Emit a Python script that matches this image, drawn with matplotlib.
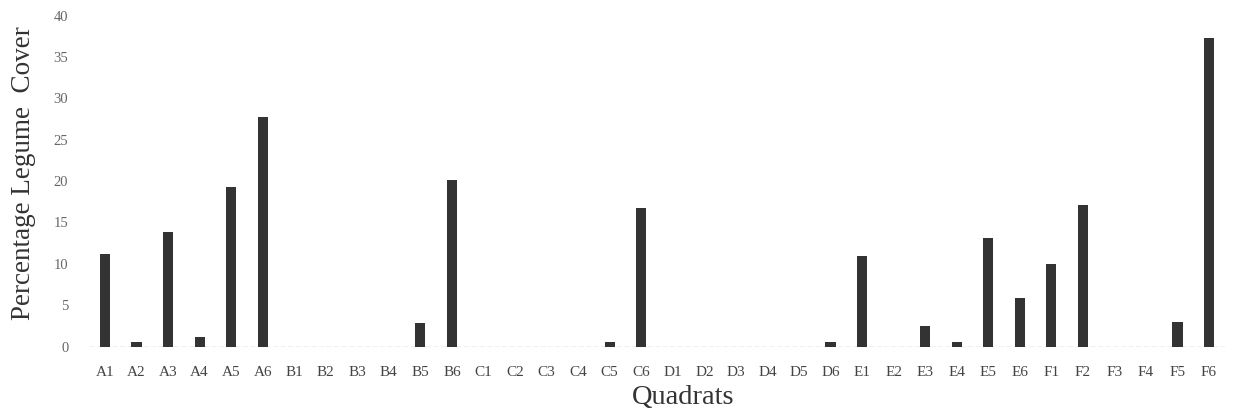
import matplotlib
matplotlib.use("Agg")
import matplotlib.pyplot as plt
import numpy as np

# Quadrat labels A1..F6 and percentage legume cover in each
quadrats = ["A1", "A2", "A3", "A4", "A5", "A6",
            "B1", "B2", "B3", "B4", "B5", "B6",
            "C1", "C2", "C3", "C4", "C5", "C6",
            "D1", "D2", "D3", "D4", "D5", "D6",
            "E1", "E2", "E3", "E4", "E5", "E6",
            "F1", "F2", "F3", "F4", "F5", "F6"]
cover = [11.2, 0.6, 13.9, 1.1, 19.3, 27.8,
         0, 0, 0, 0, 2.9, 20.1,
         0, 0, 0, 0, 0.6, 16.7,
         0, 0, 0, 0, 0, 0.6,
         10.9, 0, 2.5, 0.6, 13.1, 5.9,
         10.0, 17.1, 0, 0, 3.0, 37.3]
yticks = [0, 5, 10, 15, 20, 25, 30, 35, 40]

plt.rcParams["font.family"] = ["Liberation Serif", "DejaVu Serif"]

fig = plt.figure(figsize=(12.6, 4.2), dpi=100)
ax = fig.add_axes([0.0708, 0.175, 0.9013, 0.7876])

x = np.arange(len(quadrats))
ax.bar(x, cover, width=0.32, color="#333333", zorder=3)

ax.axhline(0, color="#b4b4b4", lw=1.0, ls=(0, (4, 1.5)), zorder=2)

ax.set_xlim(-0.5, len(quadrats) - 0.5)
ax.set_ylim(0, 40)
ax.set_xticks(x)
ax.set_xticklabels(quadrats, fontsize=11, color="#444444")
ax.set_yticks(yticks)
ax.set_yticklabels([str(v) for v in yticks], fontsize=10.5, color="#666666")
ax.tick_params(axis="both", length=0)
ax.tick_params(axis="x", pad=14)
ax.tick_params(axis="y", pad=15)

for s in ax.spines.values():
    s.set_visible(False)

ax.set_xlabel("Quadrats", fontsize=20.5, color="#333333", labelpad=4)
ax.set_ylabel("Percentage Legume  Cover", fontsize=19.5, color="#333333", labelpad=13)
ax.xaxis.label.set_x(0.523)
ax.yaxis.label.set_y(0.523)

fig.savefig("out.png", dpi=100, facecolor="white")
